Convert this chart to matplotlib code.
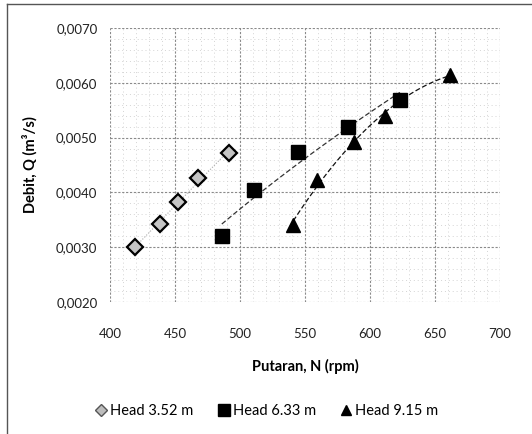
import numpy as np
import matplotlib
matplotlib.use("Agg")
import matplotlib.pyplot as plt
from matplotlib.ticker import MultipleLocator, FuncFormatter
from matplotlib.lines import Line2D

plt.rcParams['font.family'] = ['Lato', 'DejaVu Sans']

n_h1 = [419, 438.5, 452, 467.7, 491.5]
q_h1 = [0.00300, 0.00342, 0.00382, 0.00427, 0.00472]
n_h2 = [486, 511, 544.6, 583, 623]
q_h2 = [0.00320, 0.00404, 0.00473, 0.00520, 0.00569]
n_h3 = [541, 559, 587.7, 611.5, 661.5]
q_h3 = [0.00340, 0.00423, 0.00492, 0.00540, 0.00615]
labels = ["Head 3.52 m", "Head 6.33 m", "Head 9.15 m"]
xticks = [400, 450, 500, 550, 600, 650, 700]
yticks = [0.0020, 0.0030, 0.0040, 0.0050, 0.0060, 0.0070]

fig = plt.figure(figsize=(5.32, 4.34), dpi=100)
ax = fig.add_axes([110/532, 1-302/434, 390/532, 274/434])

ax.set_xlim(400, 700)
ax.set_ylim(0.0020, 0.0070)
ax.set_xticks(xticks)
ax.set_yticks(yticks)
ax.xaxis.set_minor_locator(MultipleLocator(10))
ax.yaxis.set_minor_locator(MultipleLocator(0.0002))
ax.yaxis.set_major_formatter(FuncFormatter(lambda v, p: f"{v:.4f}".replace('.', ',')))
ax.grid(which='major', color='#8a8a8a', linestyle=(0, (2, 1.5)), linewidth=0.8)
ax.grid(which='minor', color='#d4d4d4', linestyle=(0, (1, 3)), linewidth=0.7)
ax.set_axisbelow(True)
for s in ax.spines.values():
    s.set_visible(False)
ax.tick_params(which='both', length=0, labelsize=9.5, colors='#222222')
ax.tick_params(axis='y', pad=9)
ax.tick_params(axis='x', pad=19)

# trend lines
c1 = np.polyfit(n_h1, q_h1, 1)
xx1 = np.linspace(min(n_h1), max(n_h1), 100)
ax.plot(xx1, np.polyval(c1, xx1), linestyle=(0, (1, 1.5)), color='#aaaaaa', linewidth=0.8, zorder=2)

c2 = np.polyfit(np.log(n_h2), q_h2, 1)
xx2 = np.linspace(min(n_h2), max(n_h2), 100)
ax.plot(xx2, np.polyval(c2, np.log(xx2)), linestyle=(0, (4, 2)), color='#333333', linewidth=0.9, zorder=2)

c3 = np.polyfit(n_h3, q_h3, 2)
xx3 = np.linspace(min(n_h3), max(n_h3), 100)
ax.plot(xx3, np.polyval(c3, xx3), linestyle=(0, (4, 2)), color='#111111', linewidth=0.9, zorder=2)

ax.plot(n_h1, q_h1, linestyle='none', marker='D', markersize=8.5, markerfacecolor='#c4c4c4',
        markeredgecolor='black', markeredgewidth=1.6, zorder=3)
ax.plot(n_h2, q_h2, linestyle='none', marker='s', markersize=10, markerfacecolor='black',
        markeredgecolor='black', zorder=3)
ax.plot(n_h3, q_h3, linestyle='none', marker='^', markersize=10, markerfacecolor='black',
        markeredgecolor='black', zorder=3)

ax.set_xlabel("Putaran, N (rpm)", fontsize=10.5, fontweight='bold', labelpad=13)
ax.set_ylabel("Debit, Q (m\u00b3/s)", fontsize=10.5, fontweight='bold', labelpad=13)

handles = [Line2D([], [], linestyle='none', marker='D', markersize=6, markerfacecolor='#bdbdbd',
                  markeredgecolor='#555555', markeredgewidth=1.0),
           Line2D([], [], linestyle='none', marker='s', markersize=8, color='black'),
           Line2D([], [], linestyle='none', marker='^', markersize=7, color='black')]
fig.legend(handles, labels, loc='center', bbox_to_anchor=(0.5, 1-411/434), ncol=3,
           frameon=False, fontsize=10.5, handletextpad=0.1, columnspacing=1.6, handlelength=1.0)

# outer border (left and top only)
fig.add_artist(Line2D([7/532, 7/532], [0, 1-4/434], transform=fig.transFigure, color='#555555', linewidth=1.0))
fig.add_artist(Line2D([7/532, 1.0], [1-4/434, 1-4/434], transform=fig.transFigure, color='#555555', linewidth=1.0))

fig.savefig("out.png", dpi=100)
